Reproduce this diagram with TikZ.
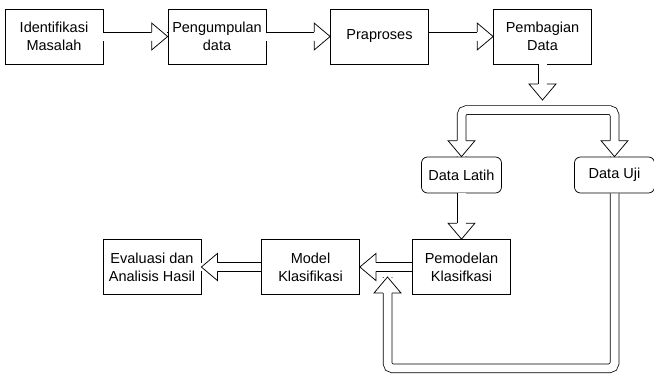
\documentclass[tikz,border=0pt]{standalone}
\usepackage{fontspec}
\setmainfont{Liberation Sans}
\usepackage{tikz}
\usetikzlibrary{decorations.markings}
\tikzstyle {proc box} = [rectangle, draw, line width=0.75pt, minimum width=98pt, minimum height=55pt, align=center, inner sep=1pt]
\tikzstyle {data box} = [rectangle, draw, rounded corners=6pt, line width=0.75pt, minimum width=80pt, minimum height=36pt, align=center, inner sep=1pt]
% hollow block arrow head, #1 = 1 at the end of a path, -1 at its start
\newcommand{\flowtip}[1]{%
    \fill[white, sharp corners] (#1*-16pt,-5.5pt) rectangle (#1*-0.5pt,5.5pt);
    \filldraw[fill=white, draw=black, line width=0.75pt, sharp corners, line join=miter]
        (#1*-16pt,4.4pt) -- (#1*-16pt,13.5pt) -- (0,0) -- (#1*-16pt,-13.5pt) -- (#1*-16pt,-4.4pt);}
\tikzset{flow/.style = {double=white, double distance=8pt, line width=0.75pt,
        decoration={markings,mark=at position 1 with {\flowtip{1}}},
        postaction={decorate}}}
\tikzset{fork/.style = {double=white, double distance=8pt, line width=0.75pt, rounded corners=5pt,
        decoration={markings,mark=at position 0 with {\flowtip{-1}},
            mark=at position 1 with {\flowtip{1}}},
        postaction={decorate}}}

\begin{document}
\begin{tikzpicture}[x=1pt, y=1pt, font=\fontsize{14.5}{18}\selectfont]
            \useasboundingbox (0,0) rectangle (654,-376);
            \node[proc box] (idm) at (54, -36.5) {Identifikasi\\Masalah};
            \node[proc box] (pgd) at (217, -36.5) {Pengumpulan\\data};
            \node[proc box] (prp) at (379.5, -36.5) {Praproses};
            \node[proc box] (pmb) at (542.5, -36.5) {Pembagian\\Data};
            \node[data box] (dlt) at (461.5, -175) {Data Latih};
            \node[data box] (duj) at (614.5, -175) {Data Uji};
            \node[proc box] (pmk) at (461.5, -267) {Pemodelan\\Klasifkasi};
            \node[proc box] (mdl) at (310.5, -267) {Model\\Klasifikasi};
            \node[proc box] (eva) at (152, -267) {Evaluasi dan\\Analisis Hasil};
            \coordinate (pmbend) at (542.5, -100);
            \coordinate (split) at (542.5, -110);
            \coordinate (uji) at (387.5, -277);
            \draw[flow] (idm) -- (pgd);
            \draw[flow] (pgd) -- (prp);
            \draw[flow] (prp) -- (pmb);
            \draw[flow] (pmb) -- (pmbend);
            \draw[fork] (dlt.north) |- (split) -| (duj.north);
            \draw[flow] (dlt) -- (pmk);
            \draw[flow] (pmk) -- (mdl);
            \draw[flow] (mdl) -- (eva);
            \draw[flow, rounded corners=5pt] (duj.south) -- ++(0,-175) -| (uji);
        \end{tikzpicture}
\end{document}
